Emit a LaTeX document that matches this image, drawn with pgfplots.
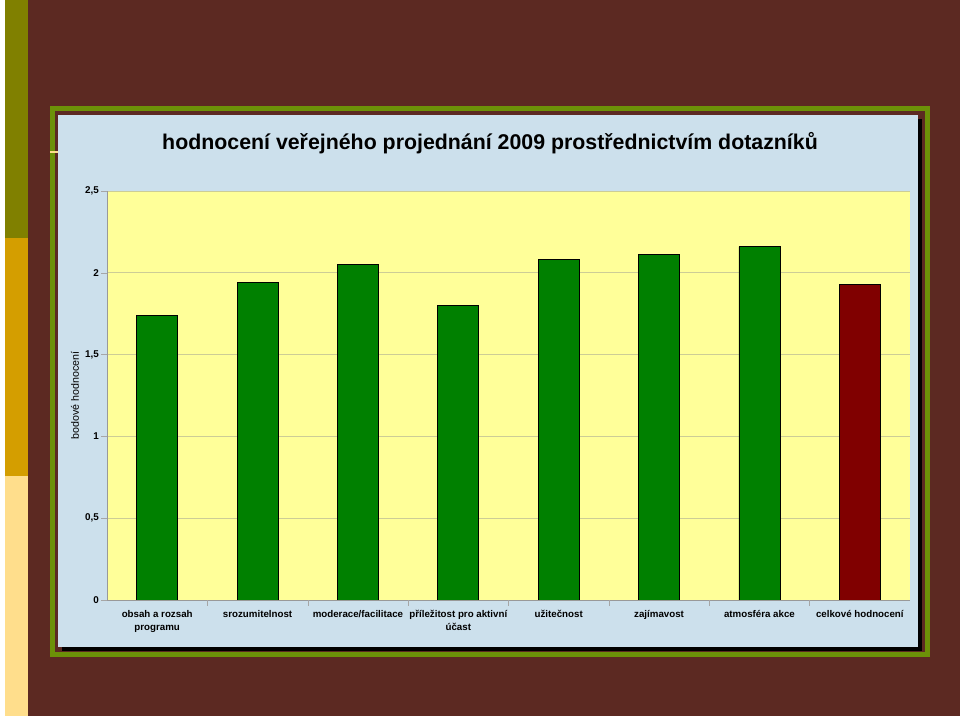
\documentclass[border=0pt]{standalone}
\usepackage{fontspec}
\setmainfont{Liberation Sans}
\usepackage{pgfplots}
\pgfplotsset{compat=1.18}

\definecolor{bgbrown}{RGB}{92,41,34}
\definecolor{stripeA}{RGB}{128,128,0}
\definecolor{stripeB}{RGB}{212,158,0}
\definecolor{stripeC}{RGB}{255,222,140}
\definecolor{framegreen}{RGB}{108,145,8}
\definecolor{panelblue}{RGB}{204,224,236}
\definecolor{plotyellow}{RGB}{255,255,153}
\definecolor{gridc}{RGB}{205,205,150}
\definecolor{bargreen}{RGB}{0,128,0}
\definecolor{barred}{RGB}{128,0,0}

\begin{document}
\begin{tikzpicture}[x=0.75pt,y=0.75pt]
% background (pixel units, y measured from the bottom)
\path[use as bounding box] (0,0) rectangle (960,716);
\fill[white] (0,0) rectangle (960,716);
\fill[bgbrown] (5,0) rectangle (960,716);
\fill[stripeA] (5,716) rectangle (28,478);
\fill[stripeB] (5,478) rectangle (28,240);
\fill[stripeC] (5,240) rectangle (28,0);
\draw[framegreen,line width=3.75pt] (52.5,607) rectangle (927.5,61.5);
\fill[black] (62,597) rectangle (922,65);
\fill[panelblue] (58,601) rectangle (918,69);
\draw[stripeC,line width=1pt] (50,564) -- (58,564);

% plot box: px x 107..910, y 191..600  (80.25pt, 87pt from bottom-left)
\begin{axis}[
  at={(80.25pt,87pt)}, anchor=south west,
  scale only axis,
  width=602.25pt, height=306.75pt,
  xmin=-0.5, xmax=7.5,
  ymin=0, ymax=2.5,
  ytick={0,0.5,1,1.5,2,2.5},
  /pgf/number format/use comma,
  /pgf/number format/assume math mode=true,
  xtick={0,...,7},
  xticklabels={{obsah a rozsah\\programu},srozumitelnost,moderace/facilitace,{příležitost pro aktivní\\účast},užitečnost,zajímavost,atmosféra akce,celkové hodnocení},
  xtick style={draw=none},
  extra x ticks={0.5,1.5,2.5,3.5,4.5,5.5,6.5},
  extra x tick labels={},
  extra x tick style={xtick style={draw=gray!70}},
  ytick style={draw=gray!70},
  tick align=outside,
  major tick length=4.5pt,
  x tick label style={align=center, anchor=north, font=\bfseries\fontsize{7.3}{9.5}\selectfont},
  y tick label style={xshift=2pt, font=\bfseries\fontsize{7.4}{9}\selectfont},
  ylabel={bodové hodnocení},
  ylabel style={at={(axis description cs:-0.04,0.5)}, anchor=center, font=\fontsize{8}{9}\selectfont},
  ymajorgrids=true,
  grid style={gridc, line width=0.6pt},
  axis x line*=bottom,
  axis y line*=left,
  axis line style={draw=gray!80},
  axis background/.style={fill=plotyellow},
  ybar, bar width=30.75pt, bar shift=0pt,
]
\addplot[fill=bargreen, draw=black, line width=0.5pt]
coordinates {(0,1.74)(1,1.94)(2,2.05)(3,1.80)(4,2.08)(5,2.11)(6,2.16)};
\addplot[fill=barred, draw=black, line width=0.5pt]
coordinates {(7,1.93)};
\end{axis}

\node[font=\bfseries\fontsize{16}{18}\selectfont] at (490,573)
  {hodnocení veřejného projednání 2009 prostřednictvím dotazníků};
\end{tikzpicture}
\end{document}
